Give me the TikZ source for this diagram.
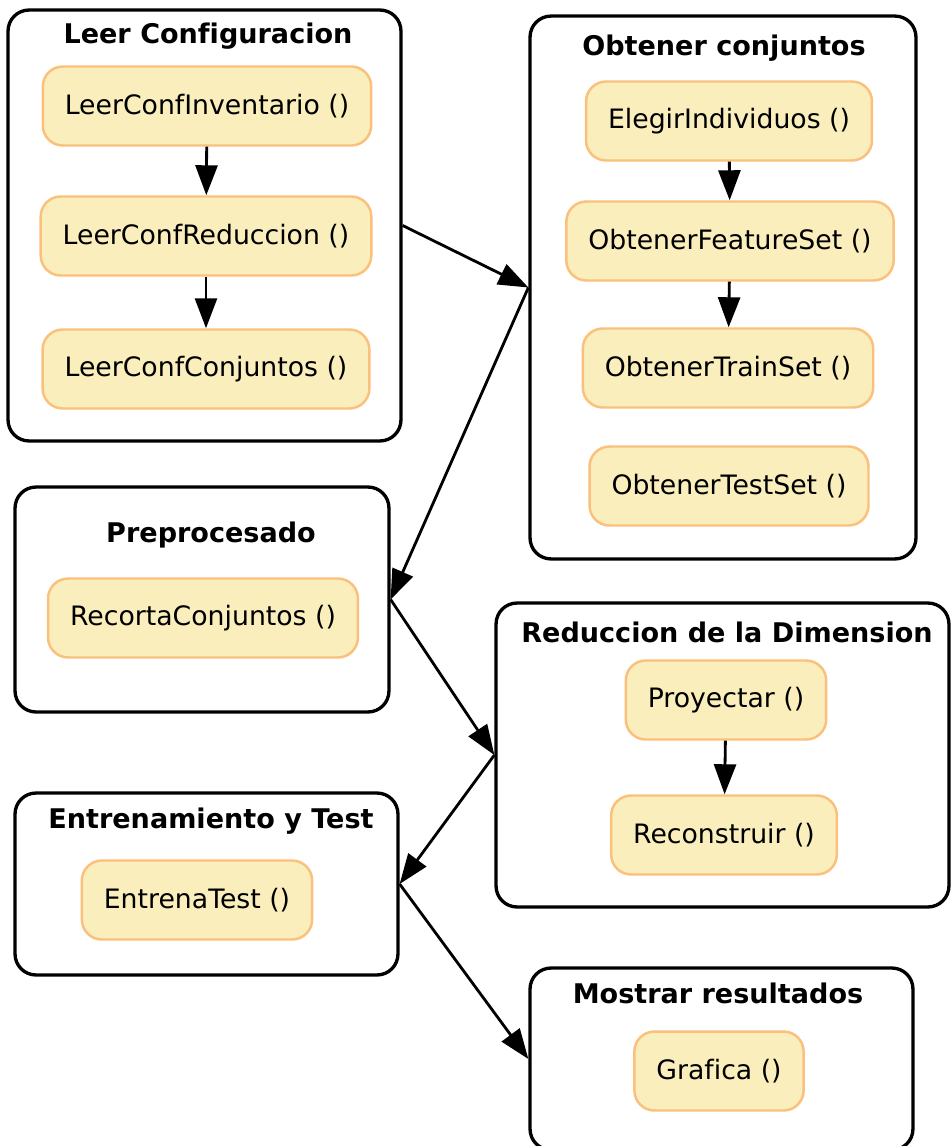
\documentclass[tikz,border=0pt]{standalone}
\usepackage{fontspec}
\setmainfont{DejaVu Sans}[Ligatures={NoCommon}]
\usetikzlibrary{arrows.meta}
\definecolor{funcfill}{RGB}{249,238,188}
\definecolor{funcdraw}{RGB}{250,192,124}

\begin{document}
\begin{tikzpicture}[x=0.02cm, y=-0.02cm,
    cluster/.style={draw, line width=1.9pt, rounded corners=0.42cm, inner sep=0pt},
    func/.style={draw=funcdraw, fill=funcfill, line width=1.4pt, rounded corners=0.4cm, minimum height=1.58cm, inner xsep=0.44cm, font=\fontsize{15.2}{17}\selectfont},
    title/.style={anchor=base, font=\fontsize{15.4}{17}\selectfont\bfseries},
    edge/.style={-{Triangle[length=0.6cm, width=0.44cm]}, line width=1.6pt},
]
  \useasboundingbox (0,0) rectangle (952,1146);

  % Clusters
  \node[cluster, minimum width=7.86cm, minimum height=8.62cm] (leer) at (204.5, 225.5) {};
  \node[cluster, minimum width=7.72cm, minimum height=10.86cm] (obtener) at (723, 287.5) {};
  \node[cluster, minimum width=7.48cm, minimum height=4.5cm] (prepro) at (202, 599.5) {};
  \node[cluster, minimum width=9.06cm, minimum height=6.08cm] (reduc) at (722.5, 755) {};
  \node[cluster, minimum width=7.66cm, minimum height=3.64cm] (entrena) at (206.5, 884) {};
  \node[cluster, minimum width=7.66cm, minimum height=3.64cm] (mostrar) at (721.5, 1059) {};

  % Titles
  \node[title] (leertit) at (208, 43) {Leer Configuracion};
  \node[title] (obtenertit) at (724, 55) {Obtener conjuntos};
  \node[title] (preprotit) at (211, 542) {Preprocesado};
  \node[title] (reductit) at (727, 642) {Reduccion de la Dimension};
  \node[title] (entrenatit) at (211, 828) {Entrenamiento y Test};
  \node[title] (mostrartit) at (718, 1003) {Mostrar resultados};

  % Functions
  \node[func] (inventario) at (207, 106) {LeerConfInventario ()};
  \node[func] (reduccion) at (206, 236) {LeerConfReduccion ()};
  \node[func] (conjuntos) at (206, 369) {LeerConfConjuntos ()};

  \node[func] (elegir) at (729, 121) {ElegirIndividuos ()};
  \node[func] (feature) at (730, 241) {ObtenerFeatureSet ()};
  \node[func] (train) at (728, 368) {ObtenerTrainSet ()};
  \node[func] (test) at (729, 486) {ObtenerTestSet ()};

  \node[func] (recorta) at (203, 618) {RecortaConjuntos ()};

  \node[func] (proyectar) at (726, 700) {Proyectar ()};
  \node[func] (reconstruir) at (724, 835) {Reconstruir ()};

  \node[func] (entrenatest) at (197, 900) {EntrenaTest ()};

  \node[func] (grafica) at (719, 1071) {Grafica ()};

  % Arrows inside clusters
  \draw[edge] (inventario) -- (reduccion);
  \draw[edge] (reduccion) -- (conjuntos);
  \draw[edge] (elegir) -- (feature);
  \draw[edge] (feature) -- (train);
  \draw[edge] (proyectar) -- (reconstruir);

  % Arrows between clusters
  \draw[edge] (leer.east) -- (obtener.west);
  \draw[edge] (obtener.west) -- (prepro.east);
  \draw[edge] (prepro.east) -- (reduc.west);
  \draw[edge] (reduc.west) -- (entrena.east);
  \draw[edge] (entrena.east) -- (mostrar.west);
\end{tikzpicture}
\end{document}
